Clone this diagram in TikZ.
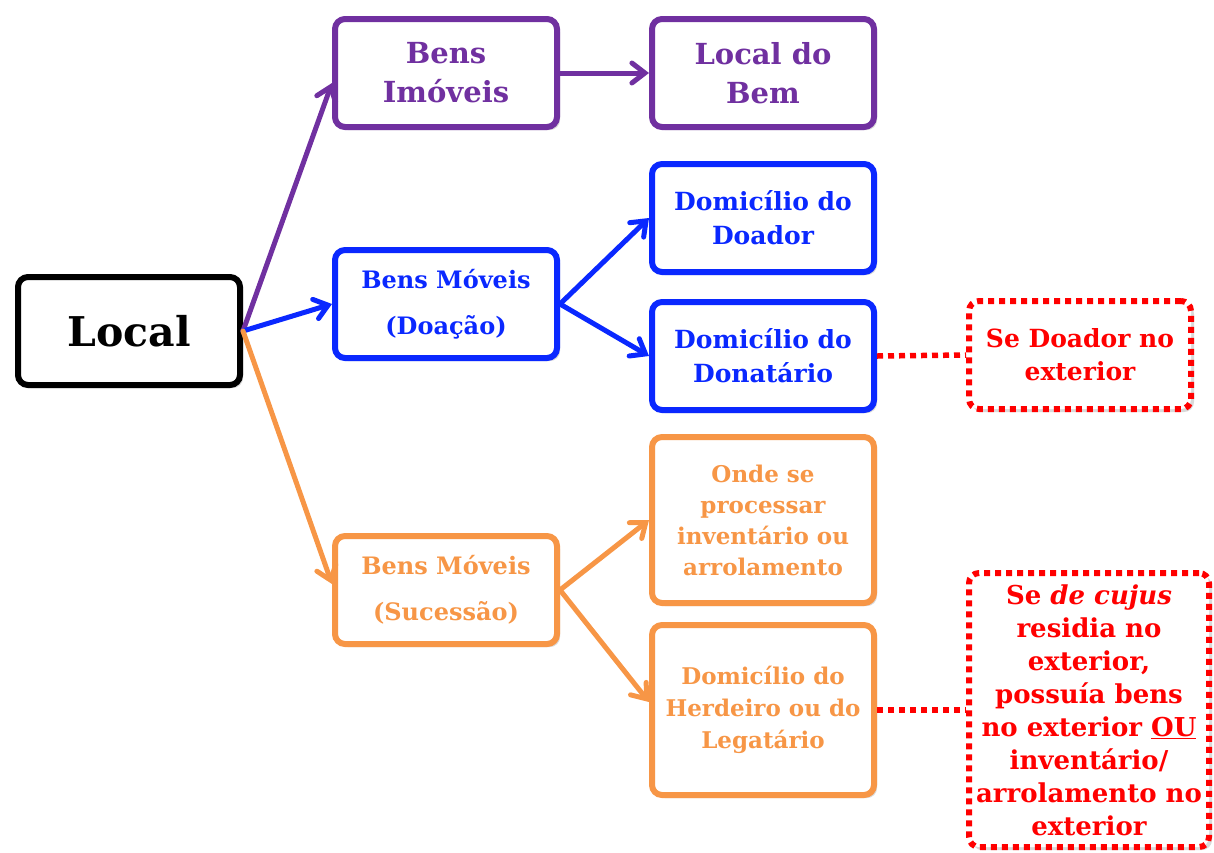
\documentclass[tikz,border=0pt]{standalone}
\usepackage{fontspec}
\setmainfont{DejaVu Serif}
\usepackage{xcolor}
\usepackage{tikz}
\usetikzlibrary{arrows.meta}
\usetikzlibrary{shadows}

\definecolor{imovel}{RGB}{112,48,160}
\definecolor{doacao}{RGB}{10,40,255}
\definecolor{sucessao}{RGB}{247,150,70}
\definecolor{aviso}{RGB}{255,0,0}

\begin{document}
\begin{tikzpicture}[x=1pt, y=-1pt,
    box/.style={draw, rounded corners=10pt, line width=6pt, fill=white,
      minimum width=222pt, minimum height=108pt, align=center, inner sep=2pt,
      drop shadow={shadow xshift=3pt, shadow yshift=-3pt, opacity=0.3}},
    notebox/.style={box, draw=aviso, text=aviso, dash pattern=on 6pt off 5pt,
      font=\bfseries\fontsize{25}{33}\selectfont},
    link/.style={line width=5pt, line cap=round,
      -{Straight Barb[length=13pt, width=20pt, line cap=round]}},
    note/.style={draw=aviso, line width=5.5pt, dash pattern=on 6pt off 5pt}]

    \useasboundingbox (0,0) rectangle (1214,852);

    % root
    \node [box, draw=black, font=\bfseries\fontsize{41}{44}\selectfont]
      (local) at (129,331) {Local};

    % bens imoveis
    \node [box, draw=imovel, text=imovel, font=\bfseries\fontsize{29}{39}\selectfont]
      (imoveis) at (446,73) {Bens\\Imóveis};
    \node [box, draw=imovel, text=imovel, font=\bfseries\fontsize{29}{39}\selectfont]
      (bem) at (763,73) {Local do\\Bem};

    % doacao
    \node [box, draw=doacao, text=doacao, font=\bfseries\fontsize{24}{34}\selectfont]
      (doacao) at (446,304) {Bens Móveis\\[12pt](Doação)};
    \node [box, draw=doacao, text=doacao, font=\bfseries\fontsize{25}{34}\selectfont]
      (doador) at (763,218) {Domicílio do\\Doador};
    \node [box, draw=doacao, text=doacao, font=\bfseries\fontsize{25}{34}\selectfont]
      (donatario) at (763,356) {Domicílio do\\Donatário};
    \node [notebox] (exdoador) at (1080,355) {Se Doador no\\exterior};

    % sucessao
    \node [box, draw=sucessao, text=sucessao, font=\bfseries\fontsize{24}{34}\selectfont]
      (sucessao) at (446,590) {Bens Móveis\\[12pt](Sucessão)};
    \node [box, draw=sucessao, text=sucessao, minimum height=166pt,
      font=\bfseries\fontsize{23}{31}\selectfont]
      (inventario) at (763,520) {Onde se\\processar\\inventário ou\\arrolamento};
    \node [box, draw=sucessao, text=sucessao, minimum height=170pt,
      font=\bfseries\fontsize{23}{32}\selectfont]
      (herdeiro) at (763,710) {Domicílio do\\Herdeiro ou do\\Legatário};
    \node [notebox, minimum width=240pt, minimum height=274pt,
      font=\bfseries\fontsize{26}{33}\selectfont]
      (excujus) at (1089,710) {Se \textit{de cujus}\\residia no\\exterior,\\possuía bens\\no exterior \underline{OU}\\inventário/\\arrolamento no\\exterior};

    % connectors
    \draw [link, imovel] (local.east) -- ([yshift=-10pt]imoveis.west);
    \draw [link, imovel] (imoveis.east) -- (bem.west);
    \draw [link, doacao] (local.east) -- (doacao.west);
    \draw [link, doacao] (doacao.east) -- (doador.west);
    \draw [link, doacao] (doacao.east) -- (donatario.west);
    \draw [link, sucessao] (local.east) -- ([yshift=6pt]sucessao.west);
    \draw [link, sucessao] (sucessao.east) -- (inventario.west);
    \draw [link, sucessao] (sucessao.east) -- ([yshift=8pt]herdeiro.west);

    \draw [note] (donatario.east) -- (exdoador.west);
    \draw [note] (herdeiro.east) -- (excujus.west);

  \end{tikzpicture}
\end{document}
